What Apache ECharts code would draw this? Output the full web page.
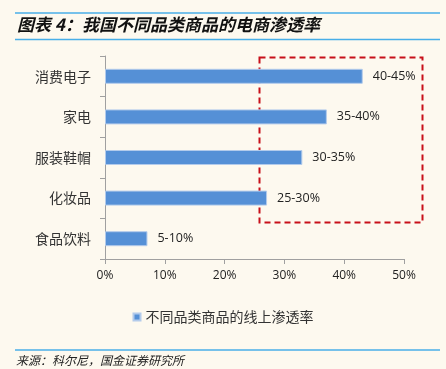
<!DOCTYPE html>
<html><head><meta charset="utf-8">
<script src="https://cdn.jsdelivr.net/npm/echarts@6/dist/echarts.min.js"></script>
<style>html,body{margin:0;padding:0;background:#FDF9EF;}#c{width:446px;height:369px;}</style>
</head><body><div id="c"></div>
<script>
const categories = ['食品饮料', '化妆品', '服装鞋帽', '家电', '消费电子'];
const values = [7.1, 27.1, 33.0, 37.1, 43.1];
const rangeLabels = ['5-10%', '25-30%', '30-35%', '35-40%', '40-45%'];
const xTicks = [0, 10, 20, 30, 40, 50];
const seriesName = '不同品类商品的线上渗透率';
const titleText = '图表 4：我国不同品类商品的电商渗透率';
const sourceText = '来源：科尔尼，国金证券研究所';

const chart = echarts.init(document.getElementById('c'));
const font = '"Noto Sans CJK SC", sans-serif';
const latin = '"Open Sans", "Liberation Sans", sans-serif';
chart.setOption({
  backgroundColor: '#FDF9EF',
  animation: false,
  grid: { left: 105, right: 42, top: 56, bottom: 110, containLabel: false },
  xAxis: {
    type: 'value', min: xTicks[0], max: xTicks[xTicks.length - 1], interval: 10,
    axisLine: { show: true, lineStyle: { color: '#A0A0A0' } },
    axisTick: { show: true, length: 5, lineStyle: { color: '#A0A0A0' } },
    splitLine: { show: false },
    axisLabel: { formatter: v => v + '%', color: '#222', fontSize: 12, fontFamily: latin, margin: 11 }
  },
  yAxis: {
    type: 'category', data: categories,
    axisLine: { show: true, lineStyle: { color: '#A0A0A0' } },
    axisTick: { show: true, length: 5, lineStyle: { color: '#A0A0A0' } },
    axisLabel: { color: '#333', fontSize: 14, fontFamily: font, margin: 14 }
  },
  legend: {
    bottom: 40, left: 'center', itemWidth: 7, itemHeight: 7, itemGap: 5,
    textStyle: { color: '#333', fontSize: 14, fontFamily: font },
    data: [{ name: seriesName, icon: 'rect' }]
  },
  series: [{
    name: seriesName, type: 'bar', data: values, barWidth: 15,
    itemStyle: { color: '#5590D6', borderColor: '#B3CBEB', borderWidth: 1 },
    label: {
      show: true, position: 'right', distance: 10, color: '#222', fontSize: 12.5,
      fontFamily: latin,
      formatter: p => rangeLabels[p.dataIndex]
    }
  }],
  graphic: [
    { type: 'line', shape: { x1: 15, y1: 13, x2: 440, y2: 13 }, style: { stroke: '#48AEE8', lineWidth: 1.5 } },
    { type: 'line', shape: { x1: 15, y1: 39.5, x2: 440, y2: 39.5 }, style: { stroke: '#48AEE8', lineWidth: 1.5 } },
    { type: 'text', left: 17, top: 16, style: { text: titleText, fill: '#111', font: 'italic bold 17px "Noto Sans CJK SC", sans-serif' } },
    { type: 'rect', shape: { x: 259.5, y: 57.5, width: 163, height: 165 }, style: { fill: 'none', stroke: '#C8101A', lineWidth: 2, lineDash: [6, 4] } },
    { type: 'line', shape: { x1: 15, y1: 350, x2: 440, y2: 350 }, style: { stroke: '#48AEE8', lineWidth: 1.5 } },
    { type: 'text', left: 16, top: 354, style: { text: sourceText, fill: '#222', font: 'italic 12px "Noto Sans CJK SC", sans-serif' } }
  ]
});
</script></body></html>
